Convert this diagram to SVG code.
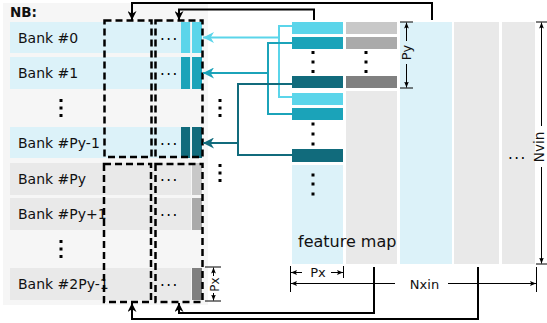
<svg xmlns="http://www.w3.org/2000/svg" width="547" height="323" viewBox="0 0 547 323">
<defs>
<style>
text{font-family:"DejaVu Sans","Liberation Sans",sans-serif;fill:#111}
.lbl{font-size:14px}
.dots{font-size:15px;letter-spacing:1.5px;fill:#000}
.dim{font-size:13px}
.blue{fill:#dcf2f9}
.gray{fill:#e9e9e9}
.c1{fill:#5bd5ea}.c2{fill:#1ba3b9}.c3{fill:#116b7c}
.g1{fill:#c8c8c8}.g2{fill:#aaaaaa}.g3{fill:#808080}
.dash{fill:none;stroke:#000;stroke-width:2.5;stroke-dasharray:7 4}
.conn{fill:none;stroke:#000;stroke-width:2}
.dl{fill:none;stroke:#000;stroke-width:1}
.dot{fill:#000}
</style>
<marker id="ab" viewBox="0 0 10 10" refX="10" refY="5" markerWidth="9" markerHeight="9" markerUnits="userSpaceOnUse" orient="auto"><path d="M0,0 L10,5 L0,10 L3,5 z" fill="#000"/></marker>
<marker id="a1" viewBox="0 0 10 10" refX="10" refY="5" markerWidth="11" markerHeight="11" markerUnits="userSpaceOnUse" orient="auto"><path d="M0,0 L10,5 L0,10 L3,5 z" fill="#5bd5ea"/></marker>
<marker id="a2" viewBox="0 0 10 10" refX="10" refY="5" markerWidth="11" markerHeight="11" markerUnits="userSpaceOnUse" orient="auto"><path d="M0,0 L10,5 L0,10 L3,5 z" fill="#1ba3b9"/></marker>
<marker id="a3" viewBox="0 0 10 10" refX="10" refY="5" markerWidth="11" markerHeight="11" markerUnits="userSpaceOnUse" orient="auto"><path d="M0,0 L10,5 L0,10 L3,5 z" fill="#116b7c"/></marker>
<marker id="as" viewBox="0 0 10 10" refX="10" refY="5" markerWidth="6" markerHeight="6" markerUnits="userSpaceOnUse" orient="auto"><path d="M0,1 L10,5 L0,9 L2,5 z" fill="#000"/></marker>
</defs>
<rect width="547" height="323" fill="#fff"/>

<g id="nb-panel">
<rect x="3" y="3" width="205" height="302" fill="#f6f6f6"/>
<text x="10" y="17" style="font-size:13.5px;font-weight:bold">NB:</text>
</g>

<g id="bank0">
<rect class="blue" x="10" y="22" width="181" height="31"/>
<rect class="c1" x="181" y="22" width="9" height="31"/>
<rect class="c1" x="192" y="22" width="10" height="31"/>
<text class="lbl" x="18" y="43">Bank #0</text>
<text class="dots" x="160" y="40">...</text>
</g>
<g id="bank1">
<rect class="blue" x="10" y="57" width="181" height="32"/>
<rect class="c2" x="181" y="57" width="9" height="32"/>
<rect class="c2" x="192" y="57" width="10" height="32"/>
<text class="lbl" x="18" y="78">Bank #1</text>
<text class="dots" x="160" y="75">...</text>
</g>
<g id="bank-py-1">
<rect class="blue" x="10" y="127" width="181" height="31"/>
<rect class="c3" x="181" y="127" width="9" height="31"/>
<rect class="c3" x="192" y="127" width="10" height="31"/>
<text class="lbl" x="18" y="148">Bank #Py-1</text>
<text class="dots" x="160" y="145">...</text>
</g>
<g id="bank-py">
<rect class="gray" x="10" y="163" width="181" height="32"/>
<rect class="g1" x="192" y="163" width="10" height="32"/>
<text class="lbl" x="18" y="184">Bank #Py</text>
<text class="dots" x="160" y="181">...</text>
</g>
<g id="bank-py+1">
<rect class="gray" x="10" y="198" width="181" height="32"/>
<rect class="g2" x="192" y="198" width="10" height="32"/>
<text class="lbl" x="18" y="219">Bank #Py+1</text>
<text class="dots" x="160" y="216">...</text>
</g>
<g id="bank-2py-1">
<rect class="gray" x="10" y="268" width="181" height="32"/>
<rect class="g3" x="192" y="268" width="10" height="32"/>
<text class="lbl" x="18" y="289">Bank #2Py-1</text>
<text class="dots" x="160" y="286">...</text>
</g>
<g id="nb-dots">
<rect class="dot" x="59.5" y="99" width="3" height="3"/><rect class="dot" x="59.5" y="106.5" width="3" height="3"/><rect class="dot" x="59.5" y="114" width="3" height="3"/>
<rect class="dot" x="59.5" y="240" width="3" height="3"/><rect class="dot" x="59.5" y="247.5" width="3" height="3"/><rect class="dot" x="59.5" y="255" width="3" height="3"/>
<rect class="dot" x="218.5" y="99" width="3" height="3"/><rect class="dot" x="218.5" y="106.5" width="3" height="3"/><rect class="dot" x="218.5" y="114" width="3" height="3"/>
<rect class="dot" x="218.5" y="164" width="3" height="3"/><rect class="dot" x="218.5" y="171.5" width="3" height="3"/><rect class="dot" x="218.5" y="179" width="3" height="3"/>
</g>
<g id="windows">
<rect class="dash" x="104.5" y="20.5" width="47" height="136.5"/>
<rect class="dash" x="155.5" y="20.5" width="47" height="136.5"/>
<rect class="dash" x="104" y="164" width="47" height="138"/>
<rect class="dash" x="155.5" y="164" width="47" height="138"/>
</g>

<g id="feature-map">
<rect class="blue" x="292" y="165" width="51" height="99"/>
<rect class="c1" x="292" y="22" width="51" height="12"/>
<rect class="c2" x="292" y="37" width="51" height="12"/>
<rect class="c3" x="292" y="76" width="51" height="12"/>
<rect class="c1" x="292" y="93" width="51" height="12"/>
<rect class="c2" x="292" y="108" width="51" height="12"/>
<rect class="c3" x="292" y="149" width="51" height="13"/>
<rect class="g1" x="346" y="22" width="51" height="12"/>
<rect class="g2" x="346" y="37" width="51" height="12"/>
<rect class="g3" x="346" y="76" width="51" height="12"/>
<rect class="gray" x="346" y="91" width="51" height="173"/>
<rect class="blue" x="400" y="22" width="52" height="242"/>
<rect class="gray" x="454" y="22" width="45" height="242"/>
<rect class="gray" x="502" y="22" width="33" height="242"/>
<rect class="dot" x="311.5" y="51" width="3" height="3"/><rect class="dot" x="311.5" y="60.5" width="3" height="3"/><rect class="dot" x="311.5" y="70" width="3" height="3"/>
<rect class="dot" x="364.5" y="51" width="3" height="3"/><rect class="dot" x="364.5" y="60.5" width="3" height="3"/><rect class="dot" x="364.5" y="70" width="3" height="3"/>
<rect class="dot" x="311.5" y="122.5" width="3" height="3"/><rect class="dot" x="311.5" y="132.5" width="3" height="3"/><rect class="dot" x="311.5" y="142.5" width="3" height="3"/>
<rect class="dot" x="311.5" y="173.5" width="3" height="3"/><rect class="dot" x="311.5" y="182.5" width="3" height="3"/><rect class="dot" x="311.5" y="192.5" width="3" height="3"/>
<text x="298" y="247" style="font-size:16px">feature map</text>
<text class="dots" x="508" y="159">...</text>
</g>

<g id="dimensions">
<path class="dl" d="M400,22 H413 M400,88 H413"/>
<line class="dl" x1="406.5" y1="41" x2="406.5" y2="22.5" marker-end="url(#as)"/>
<line class="dl" x1="406.5" y1="64" x2="406.5" y2="87.5" marker-end="url(#as)"/>
<text class="dim" transform="translate(411,52.5) rotate(-90)" text-anchor="middle">Py</text>
<path class="dl" d="M536,22 H547 M536,264 H547"/>
<line class="dl" x1="541.5" y1="126" x2="541.5" y2="22.5" marker-end="url(#as)"/>
<line class="dl" x1="541.5" y1="167" x2="541.5" y2="263.5" marker-end="url(#as)"/>
<text class="dim" transform="translate(543.5,147) rotate(-90)" text-anchor="middle" style="font-size:13.5px">Nvin</text>
<path class="dl" d="M290.5,266 V292 M343.5,266 V278 M536.5,267 V292"/>
<line class="dl" x1="302" y1="272.5" x2="291" y2="272.5" marker-end="url(#as)"/>
<line class="dl" x1="331" y1="272.5" x2="343" y2="272.5" marker-end="url(#as)"/>
<text class="dim" x="318" y="277" text-anchor="middle">Px</text>
<line class="dl" x1="395" y1="283.5" x2="291" y2="283.5" marker-end="url(#as)"/>
<line class="dl" x1="448" y1="283.5" x2="536" y2="283.5" marker-end="url(#as)"/>
<text class="dim" x="424.5" y="288.5" text-anchor="middle">Nxin</text>
<path class="dl" d="M205,267 H221 M205,301 H221"/>
<line class="dl" x1="213.5" y1="276" x2="213.5" y2="267.5" marker-end="url(#as)"/>
<line class="dl" x1="213.5" y1="293" x2="213.5" y2="300.5" marker-end="url(#as)"/>
<text class="dim" transform="translate(219,284.5) rotate(-90)" text-anchor="middle" style="font-size:12px">Px</text>
</g>

<g id="connectors">
<path class="conn" d="M432,20 V3 H132 V20" marker-end="url(#ab)"/>
<path class="conn" d="M314,20 V9.5 H179 V20" marker-end="url(#ab)"/>
<path class="conn" d="M478,267 V319 H132 V303" marker-end="url(#ab)"/>
<path class="conn" d="M374,267 V313 H179 V303" marker-end="url(#ab)"/>
<path d="M292,26 H279 V97 H292" fill="none" stroke="#5bd5ea" stroke-width="2"/>
<line x1="279" y1="37.5" x2="203" y2="37.5" stroke="#5bd5ea" stroke-width="2" marker-end="url(#a1)"/>
<path d="M292,43 H268 V114 H292" fill="none" stroke="#1ba3b9" stroke-width="2"/>
<line x1="268" y1="73" x2="203" y2="73" stroke="#1ba3b9" stroke-width="2" marker-end="url(#a2)"/>
<path d="M292,84 H238 V155 H292" fill="none" stroke="#116b7c" stroke-width="2"/>
<line x1="238" y1="143" x2="203" y2="143" stroke="#116b7c" stroke-width="2" marker-end="url(#a3)"/>
</g>
</svg>
